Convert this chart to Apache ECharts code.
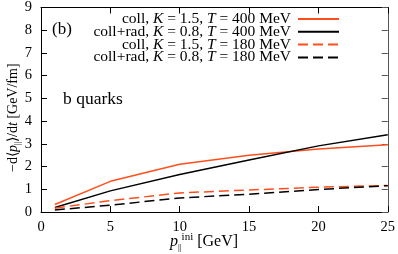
<!DOCTYPE html>
<html><head><meta charset="utf-8">
<script src="https://cdn.jsdelivr.net/npm/echarts@6/dist/echarts.min.js"></script>
<style>html,body{margin:0;padding:0;background:#fff}#c{width:398px;height:254px}</style>
</head><body><div id="c"></div>
<script>
const pIni = [1, 5, 10, 15, 20, 25];
const collT400 = [0.33, 1.35, 2.1, 2.5, 2.77, 2.96];
const radT400 = [0.2, 0.93, 1.65, 2.29, 2.91, 3.4];
const collT180 = [0.17, 0.5, 0.84, 0.97, 1.09, 1.17];
const radT180 = [0.09, 0.3, 0.62, 0.78, 0.99, 1.16];
const names = ['coll, K = 1.5, T = 400 MeV', 'coll+rad, K = 0.8, T = 400 MeV', 'coll, K = 1.5, T = 180 MeV', 'coll+rad, K = 0.8, T = 180 MeV'];
const labelRich = [
  '{n|coll, }{i|K}{n| = 1.5, }{i|T}{n| = 400 MeV}',
  '{n|coll+rad, }{i|K}{n| = 0.8, }{i|T}{n| = 400 MeV}',
  '{n|coll, }{i|K}{n| = 1.5, }{i|T}{n| = 180 MeV}',
  '{n|coll+rad, }{i|K}{n| = 0.8, }{i|T}{n| = 180 MeV}'
];
const ORANGE = '#ff4f1c', BLACK = '#000';
const FONT = 'Liberation Serif';
const seriesData = [collT400, radT400, collT180, radT180];
const colors = [ORANGE, BLACK, ORANGE, BLACK];
const types = ['solid', 'solid', [10, 5], [10, 5]];

const chart = echarts.init(document.getElementById('c'));
const tickStyle = {show: true, inside: true, length: 6, lineStyle: {color: '#000'}};
const LFS = 15.5;
const legends = names.map((nm, i) => ({
  show: true,
  data: [nm], right: 58, top: 11 + i * 12.8, itemWidth: 41, itemHeight: 10, itemGap: 0,
  align: 'right', padding: 0,
  itemStyle: {opacity: 0},
  formatter: () => labelRich[i],
  textStyle: {fontFamily: FONT, fontSize: LFS, lineHeight: 12, color: '#000', padding: [0, 2, 0, 0],
    rich: {n: {fontFamily: FONT, fontSize: LFS, lineHeight: 12}, i: {fontFamily: FONT, fontSize: LFS, lineHeight: 12, fontStyle: 'italic'}}}
}));
chart.setOption({
  animation: false,
  grid: {left: 41, right: 9, top: 5, bottom: 42},
  legend: legends,
  xAxis: [
    {type: 'value', min: 0, max: 25, interval: 5, position: 'bottom',
     axisLine: {onZero: false, lineStyle: {color: '#000'}}, axisTick: tickStyle, splitLine: {show: false},
     axisLabel: {fontFamily: FONT, fontSize: 14.5, color: '#000', margin: 8}},
    {type: 'value', min: 0, max: 25, interval: 5, position: 'top',
     axisLine: {onZero: false, lineStyle: {color: '#000'}}, axisTick: tickStyle, splitLine: {show: false}, axisLabel: {show: false}}
  ],
  yAxis: [
    {type: 'value', min: 0, max: 9, interval: 1, position: 'left',
     axisLine: {onZero: false, lineStyle: {color: '#000'}}, axisTick: tickStyle, splitLine: {show: false},
     axisLabel: {fontFamily: FONT, fontSize: 14.5, color: '#000', margin: 9}},
    {type: 'value', min: 0, max: 9, interval: 1, position: 'right',
     axisLine: {onZero: false, lineStyle: {color: '#555'}}, axisTick: {show: true, inside: true, length: 6, lineStyle: {color: '#555'}}, splitLine: {show: false}, axisLabel: {show: false}}
  ],
  series: seriesData.map((d, i) => ({
    name: names[i], type: 'line', symbol: 'none', silent: true,
    data: pIni.map((x, j) => [x, d[j]]),
    lineStyle: {color: colors[i], width: 1.5, type: types[i]},
    itemStyle: {color: colors[i]}
  })),
  graphic: [
    {type: 'text', left: 52, top: 21, style: {text: '(b)', font: '17px "Liberation Serif"', fill: '#000'}},
    {type: 'text', left: 63, top: 90, style: {text: 'b quarks', font: '17.5px "Liberation Serif"', fill: '#000'}},
    {type: 'text', x: 170, y: 232, style: {
      text: '{i|p}{s|||}{sp|ini}{n| [GeV]}', fill: '#000',
      rich: {i: {font: 'italic 16px "Liberation Serif"'}, s: {font: '9px "Liberation Serif"', padding: [11, 0, 0, 0]},
             sp: {font: '11px "Liberation Serif"', padding: [0, 0, 9, 0]}, n: {font: '16px "Liberation Serif"'}}}},
    {type: 'text', x: 5, y: 172, rotation: Math.PI / 2, style: {
      text: '{n|−d⟨}{i|p}{s|||}{n|⟩/d}{i|t}{n| [GeV/fm]}', fill: '#000',
      rich: {i: {font: 'italic 14px "Liberation Serif"'}, s: {font: '8px "Liberation Serif"', padding: [9, 0, 0, 0]}, n: {font: '14px "Liberation Serif"'}}}}
  ]
});
</script></body></html>
